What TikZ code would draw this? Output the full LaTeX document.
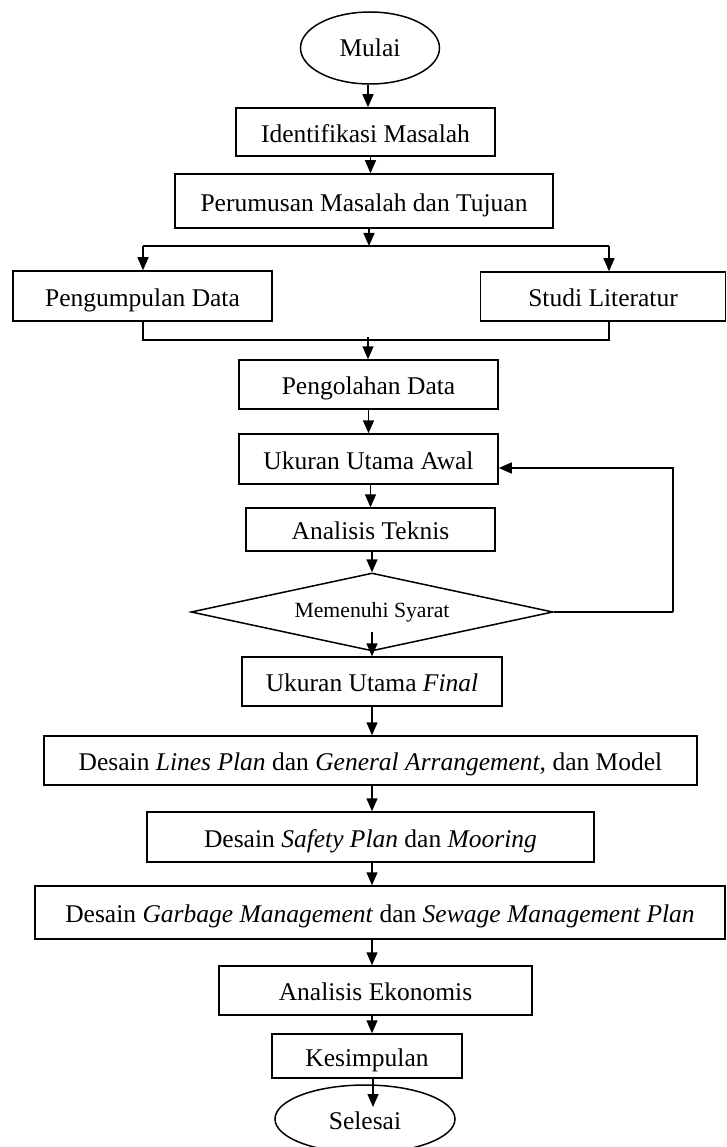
\documentclass[tikz,border=0pt]{standalone}
\usepackage{fontspec}
\setmainfont{Liberation Serif}
\usetikzlibrary{arrows.meta,shapes.geometric}
\begin{document}
\begin{tikzpicture}[x=1pt,y=-1pt,
  box/.style={draw,line width=1.5pt,rectangle,inner sep=0pt,align=center,text height=23pt,text depth=2.5pt,font=\fontsize{25.5}{30}\selectfont},
  oval/.style={draw,line width=1.5pt,ellipse,inner sep=0pt,font=\fontsize{25.5}{30}\selectfont},
  decision/.style={draw,line width=1.5pt,diamond,inner sep=0pt,shape aspect=4.6,font=\fontsize{21.7}{26}\selectfont},
  line/.style={line width=1.5pt},
  arr/.style={line width=1.5pt,-{Triangle[length=13pt,width=11pt]}}]
\fill[white] (0,0) rectangle (727,1147);
\useasboundingbox (0,0) rectangle (727,1147);

\node[oval,minimum width=139pt,minimum height=72pt] (mulai) at (370,48) {Mulai};
\node[box,minimum width=259pt,minimum height=48pt] (id) at (365.5,132) {Identifikasi Masalah};
\node[box,minimum width=378pt,minimum height=54pt] (pm) at (364,201) {Perumusan Masalah dan Tujuan};
\node[box,minimum width=259pt,minimum height=50pt] (pd) at (142.5,296) {Pengumpulan Data};
\node[box,minimum width=245pt,minimum height=49pt] (sl) at (603,296.5) {Studi Literatur};
\node[box,minimum width=259pt,minimum height=49pt] (po) at (368.5,384.5) {Pengolahan Data};
\node[box,minimum width=259pt,minimum height=50pt] (ua) at (368.5,459) {Ukuran Utama Awal};
\node[box,minimum width=249pt,minimum height=43pt] (at) at (370.5,529.5) {Analisis Teknis};
\node[decision,minimum width=362pt,minimum height=78pt] (dia) at (372,612) {Memenuhi Syarat};
\node[box,minimum width=260pt,minimum height=49pt] (uf) at (372,681.5) {Ukuran Utama \textit{Final}};
\node[box,minimum width=653pt,minimum height=49pt] (lp) at (370.5,760.5) {Desain \textit{Lines Plan} dan \textit{General Arrangement,} dan Model};
\node[box,minimum width=447pt,minimum height=50pt] (sp) at (370.5,837) {Desain \textit{Safety Plan} dan \textit{Mooring}};
\node[box,minimum width=690pt,minimum height=53pt] (gm) at (380,912.5) {Desain \textit{Garbage Management} dan \textit{Sewage Management Plan}};
\node[box,minimum width=313pt,minimum height=49pt] (ae) at (375.5,990.5) {Analisis Ekonomis};
\node[box,minimum width=190pt,minimum height=44pt] (ks) at (367,1056) {Kesimpulan};
\node[oval,minimum width=180pt,minimum height=68pt,text height=23pt,text depth=2.5pt] (sel) at (365,1119) {Selesai};

% coordinates for branching
\coordinate (split) at (369,246);
\coordinate (sL) at (143,246);
\coordinate (sR) at (609,246);
\coordinate (mL) at (143,340);
\coordinate (mR) at (609,340);
\coordinate (mM) at (368,337);
\coordinate (fb) at (673,612);
\coordinate (selin) at (373,1107);

\draw[arr] ([xshift=-2pt]mulai.south) -- ([xshift=-2pt]mulai.south |- id.north);
\draw[arr] ([xshift=5pt]id.south) -- ([xshift=5pt]id.south |- pm.north);
\draw[arr] (pm.south -| split) -- (split);
\draw[line] (sL) -- (sR);
\draw[arr] (sL) -- (sL |- pd.north);
\draw[arr] (sR) -- (sR |- sl.north);
\draw[line] (sL |- pd.south) -- (mL) -- (mR) -- (sR |- sl.south);
\draw[arr] (mM) -- (mM |- po.north);
\draw[arr] (po.south) -- (po.south |- ua.north);
\draw[arr] ([xshift=2pt]ua.south) -- ([xshift=2pt]ua.south |- at.north);
\draw[arr] ([xshift=1.5pt]at.south) -- (dia.north);
\draw[line] (dia.east) -- (fb);
\draw[arr] (fb) |- ([yshift=-9pt]ua.east);
\draw[arr] (dia.center |- 0,632) -- (uf.north);
\draw[arr] (uf.south) -- (uf.south |- lp.north);
\draw[arr] ([xshift=1.5pt]lp.south) -- ([xshift=1.5pt]lp.south |- sp.north);
\draw[arr] ([xshift=1.5pt]sp.south) -- ([xshift=1.5pt]sp.south |- gm.north);
\draw[arr] ([xshift=-8pt]gm.south) -- ([xshift=-8pt]gm.south |- ae.north);
\draw[arr] ([xshift=-3.5pt]ae.south) -- ([xshift=-3.5pt]ae.south |- ks.north);
\draw[arr] (ks.south -| selin) -- (selin);
\end{tikzpicture}
\end{document}
